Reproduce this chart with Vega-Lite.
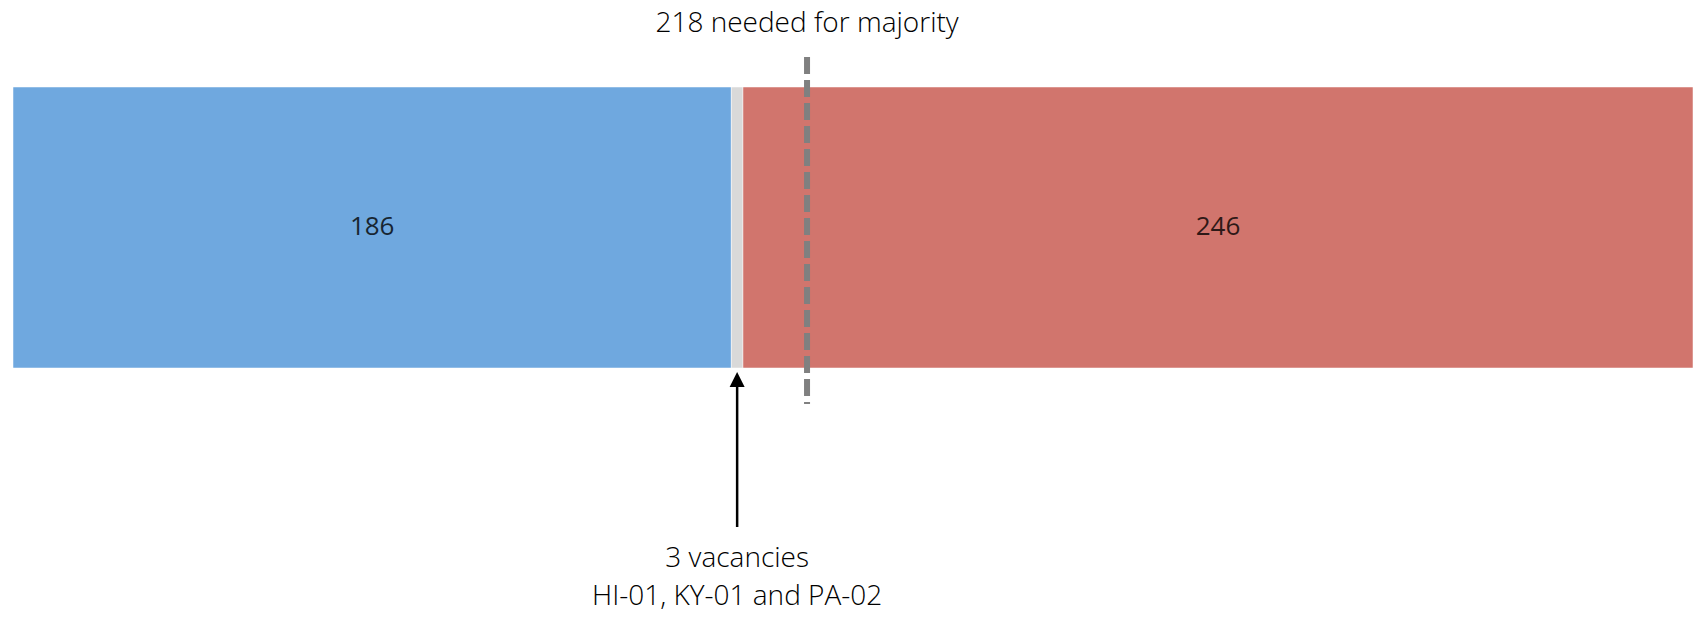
{
  "$schema": "https://vega.github.io/schema/vega-lite/v6.json",
  "width": 1680,
  "height": 347,
  "autosize": {"type": "none"},
  "padding": {"left": 13, "top": 57, "right": 7, "bottom": 216},
  "background": "white",
  "config": {"view": {"stroke": null}, "font": "Open Sans"},
  "datasets": {
    "seats": [
      {"chamber": "House", "party": "Democratic", "rank": 1, "seats": 186},
      {"chamber": "House", "party": "Vacant", "rank": 2, "seats": 3},
      {"chamber": "House", "party": "Republican", "rank": 3, "seats": 246}
    ],
    "notes": [
      {"chamber": "House", "note": "majority", "label": "218 needed for majority", "at": 205.6},
      {"chamber": "House", "note": "vacancies", "label": "3 vacancies\nHI-01, KY-01 and PA-02", "at": 187.5}
    ]
  },
  "layer": [
    {
      "data": {"name": "seats"},
      "mark": {"type": "bar", "stroke": "white", "strokeWidth": 0.5},
      "encoding": {
        "x": {"field": "seats", "type": "quantitative", "stack": "zero", "scale": {"domain": [0, 435], "nice": false}, "axis": null},
        "y": {"field": "chamber", "type": "nominal", "axis": null, "scale": {"paddingInner": 0, "paddingOuter": 0.1174, "align": 0.4545}},
        "color": {"field": "party", "type": "nominal", "scale": {"domain": ["Democratic", "Vacant", "Republican"], "range": ["#6FA8DF", "#D9D9D9", "#D1756D"]}, "legend": null},
        "order": {"field": "rank", "type": "quantitative"}
      }
    },
    {
      "data": {"name": "seats"},
      "mark": {"type": "text", "fontSize": 26, "color": "black", "opacity": 0.78, "baseline": "middle", "align": "center"},
      "encoding": {
        "x": {"field": "seats", "type": "quantitative", "stack": "zero", "bandPosition": 0.5},
        "y": {"field": "chamber", "type": "nominal"},
        "detail": {"field": "party", "type": "nominal"},
        "order": {"field": "rank", "type": "quantitative"},
        "text": {"condition": {"test": "datum.party === 'Vacant'", "value": ""}, "field": "seats", "type": "quantitative"}
      }
    },
    {
      "data": {"name": "notes"},
      "transform": [{"filter": "datum.note === 'majority'"}],
      "mark": {"type": "rule", "color": "#808080", "strokeWidth": 6, "strokeDash": [17, 6]},
      "encoding": {
        "x": {"field": "at", "type": "quantitative"}
      }
    },
    {
      "data": {"name": "notes"},
      "transform": [{"filter": "datum.note === 'majority'"}],
      "mark": {"type": "text", "fontSize": 28, "fontWeight": 300, "color": "black", "baseline": "alphabetic", "align": "center", "dy": -55},
      "encoding": {
        "x": {"field": "at", "type": "quantitative"},
        "y": {"field": "chamber", "type": "nominal", "bandPosition": 0},
        "text": {"field": "label"}
      }
    },
    {
      "data": {"name": "notes"},
      "transform": [{"filter": "datum.note === 'vacancies'"}],
      "mark": {"type": "rule", "color": "black", "strokeWidth": 2.5, "yOffset": 17, "y2Offset": 299.5},
      "encoding": {
        "x": {"field": "at", "type": "quantitative"},
        "y": {"field": "chamber", "type": "nominal", "bandPosition": 1},
        "y2": {"field": "chamber"}
      }
    },
    {
      "data": {"name": "notes"},
      "transform": [{"filter": "datum.note === 'vacancies'"}],
      "mark": {"type": "point", "shape": "M0,-1L-1,1L1,1Z", "size": 225, "filled": true, "color": "black", "opacity": 1, "yOffset": 11.5},
      "encoding": {
        "x": {"field": "at", "type": "quantitative"},
        "y": {"field": "chamber", "type": "nominal", "bandPosition": 1}
      }
    },
    {
      "data": {"name": "notes"},
      "transform": [{"filter": "datum.note === 'vacancies'"}],
      "mark": {"type": "text", "fontSize": 28, "fontWeight": 300, "color": "black", "baseline": "alphabetic", "align": "center", "lineBreak": "\n", "lineHeight": 38, "dy": 199},
      "encoding": {
        "x": {"field": "at", "type": "quantitative"},
        "y": {"field": "chamber", "type": "nominal", "bandPosition": 1},
        "text": {"field": "label"}
      }
    }
  ]
}
